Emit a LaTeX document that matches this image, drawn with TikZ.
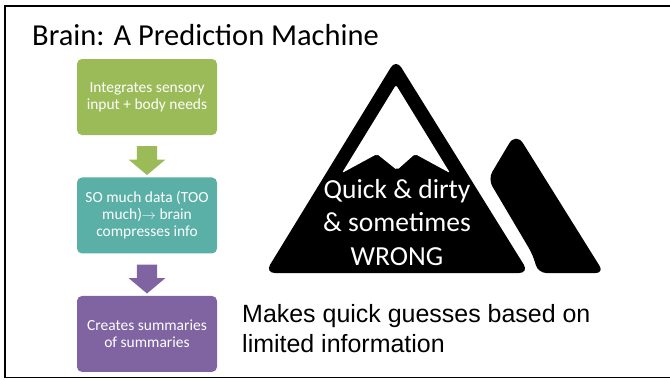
\documentclass[tikz,border=0pt]{standalone}
\usepackage{fontspec}
\setmainfont{Carlito}
\newfontfamily\arialfont{Liberation Sans}
\usetikzlibrary{positioning,shapes.arrows,calc}

\definecolor{stepgreen}{RGB}{155,187,89}
\definecolor{stepteal}{RGB}{90,176,166}
\definecolor{steppurple}{RGB}{128,100,162}

\begin{document}
\begin{tikzpicture}[x=0.3mm, y=-0.3mm, node distance=12.6mm,
        box/.style = {rounded corners=1.5mm, minimum width=42mm, minimum height=22.8mm, inner sep=0pt,
                      align=center, text=white, font=\fontsize{13.2}{14.5}\selectfont},
        blockarrow/.style = {single arrow, minimum height=8.7mm, inner xsep=0pt, inner ysep=3mm,
                      single arrow head extend=2.4mm, single arrow tip angle=100, rotate=-90} ]
        \useasboundingbox (0,0) rectangle (670,379);
        \draw[line width=1.6pt] (670,6) -- (5,6) -- (5,377.5) -- (670,377.5);

        \node[anchor=base west, inner sep=0pt, font=\fontsize{26}{31}\selectfont] (title) at (32,45.5) {Brain: A Prediction Machine};

        % the three steps on the left
        \node[box, fill=stepgreen] (sense) at (147,97) {Integrates sensory\\input + body needs};
        \node[box, fill=stepteal] (squeeze) [below = of sense] {SO much data (TOO\\much)$\rightarrow$ brain\\compresses info};
        \node[box, fill=steppurple] (summary) [below = of squeeze] {Creates summaries\\of summaries};

        \node[blockarrow, fill=stepgreen] (a1) at ($(sense.south)!0.5!(squeeze.north)$) {};
        \node[blockarrow, fill=steppurple] (a2) at ($(squeeze.south)!0.5!(summary.north)$) {};

        % mountain
        \fill[rounded corners=3mm] (265,273) -- (396,59) -- (529,273) -- cycle;
        \fill[white, rounded corners=0.6mm] (396,85) -- (450,173) -- (415,154) -- (397,170) -- (377,154) -- (342,173) -- cycle;
        \fill (488,179) [rounded corners=4mm] -- (516,132) [rounded corners=2.5mm] -- (604,273) -- (538,273) -- (533,255) -- cycle;

        \node[anchor=base, inner sep=0pt, align=center, text=white, font=\fontsize{23.5}{28.5}\selectfont] (peak) at (397,265)
            {Quick \& dirty\\\& sometimes\\WRONG};

        \node[anchor=base west, inner sep=0pt, align=left, font=\arialfont\fontsize{21.3}{25.6}\selectfont] (guess) at (242,352)
            {Makes quick guesses based on\\limited information};
\end{tikzpicture}
\end{document}
